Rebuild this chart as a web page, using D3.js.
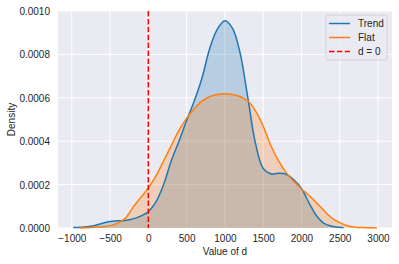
<!DOCTYPE html>
<html lang="en">
<head>
  <meta charset="utf-8">
  <title>kde of d</title>
  <script src="https://d3js.org/d3.v7.min.js"></script>
  <style>
    body { margin: 0; background: #fff; }
    svg { display: block; font-family: "Liberation Sans", Arial, sans-serif; }
    .axis text { font-size: 10px; fill: #262626; }
    .axis path.domain, .axis line { display: none; }
    .grid line { stroke: #fff; stroke-width: 1; }
    .label { font-size: 10px; fill: #262626; text-anchor: middle; }
    .legText { font-size: 10px; fill: #262626; }
  </style>
</head>
<body>
<script>
  // density curves (x = value of d, y = density)
  const trendX = [-980, -800, -700, -600, -500, -400, -300, -200, -100, 0, 100, 200, 300, 400, 500, 600,
    700, 800, 900, 1000, 1100, 1200, 1300, 1400, 1500, 1600, 1700, 1800, 1900, 2000, 2100, 2200, 2300,
    2400, 2500, 2550];
  const trendY = [0.000002, 0.000006, 0.000012, 0.000022, 0.000030, 0.000033, 0.000035, 0.000042, 0.000055,
    0.000075, 0.000120, 0.000200, 0.000310, 0.000400, 0.000495, 0.000585, 0.000690, 0.000825, 0.000915,
    0.000955, 0.000920, 0.000805, 0.000600, 0.000390, 0.000275, 0.000250, 0.000252, 0.000248, 0.000222,
    0.000182, 0.000115, 0.000055, 0.000020, 0.000008, 0.000003, 0.000001];
  const flatX = [-900, -800, -700, -600, -500, -400, -300, -200, -100, 0, 100, 200, 300, 400, 500, 600,
    700, 800, 900, 1000, 1100, 1200, 1300, 1400, 1500, 1600, 1700, 1800, 1900, 2000, 2100, 2200, 2300,
    2400, 2500, 2600, 2700, 2800, 2900, 2985];
  const flatY = [0.0, 0.000001, 0.000003, 0.000006, 0.000011, 0.000022, 0.000045, 0.000095, 0.000140,
    0.000185, 0.000240, 0.000310, 0.000380, 0.000450, 0.000505, 0.000550, 0.000585, 0.000605, 0.000615,
    0.000619, 0.000615, 0.000605, 0.000585, 0.000540, 0.000470, 0.000380, 0.000310, 0.000255, 0.000215,
    0.000180, 0.000150, 0.000115, 0.000078, 0.000045, 0.000025, 0.000010, 0.000004, 0.000002, 0.000001, 0.0];

  const xTicks = [-1000, -500, 0, 500, 1000, 1500, 2000, 2500, 3000];
  const yTicks = [0, 0.0002, 0.0004, 0.0006, 0.0008, 0.0010];
  const series = [
    { name: "Trend", color: "#1f77b4", xs: trendX, ys: trendY },
    { name: "Flat", color: "#ff7f0e", xs: flatX, ys: flatY }
  ];
  const refValue = 0;

  const width = 399, height = 264;
  const margin = { top: 11, right: 7, bottom: 36, left: 58 };
  const innerWidth = width - margin.left - margin.right;
  const innerHeight = height - margin.top - margin.bottom;

  const svg = d3.select("body").append("svg")
    .attr("width", width).attr("height", height);
  const g = svg.append("g").attr("transform", `translate(${margin.left},${margin.top})`);

  const x = d3.scaleLinear().domain([-1180, 3183]).range([0, innerWidth]);
  const y = d3.scaleLinear().domain([0, 0.001]).range([innerHeight, 0]);

  g.append("rect").attr("width", innerWidth).attr("height", innerHeight).attr("fill", "#eaeaf2");

  // grid
  const grid = g.append("g").attr("class", "grid");
  grid.selectAll("line.gx").data(xTicks).join("line").attr("class", "gx")
    .attr("x1", d => x(d)).attr("x2", d => x(d)).attr("y1", 0).attr("y2", innerHeight);
  grid.selectAll("line.gy").data(yTicks).join("line").attr("class", "gy")
    .attr("x1", 0).attr("x2", innerWidth).attr("y1", d => y(d)).attr("y2", d => y(d));

  // axes (tick text placed with plain pixel offsets)
  const fmtX = d => d3.format("d")(d).replace("-", "\u2212");
  const xAxisG = g.append("g").attr("class", "axis")
    .attr("transform", `translate(0,${innerHeight})`)
    .call(d3.axisBottom(x).tickValues(xTicks).tickFormat(fmtX).tickSize(0));
  xAxisG.selectAll("text").attr("dy", null).attr("y", 14);
  const yAxisG = g.append("g").attr("class", "axis")
    .call(d3.axisLeft(y).tickValues(yTicks).tickFormat(d3.format(".4f")).tickSize(0));
  yAxisG.selectAll("text").attr("dy", null).attr("x", -8).attr("y", 3.5);

  // kde curves
  const curve = d3.curveCatmullRom.alpha(0.5);
  const area = d3.area().x(d => x(d[0])).y0(innerHeight).y1(d => y(Math.max(0, d[1]))).curve(curve);
  const line = d3.line().x(d => x(d[0])).y(d => y(d[1])).curve(curve);
  series.forEach(s => {
    s.pts = s.xs.map((v, i) => [v, s.ys[i]]);
    g.append("path").datum(s.pts).attr("d", area)
      .attr("fill", s.color).attr("fill-opacity", 0.25);
  });
  series.forEach(s => {
    g.append("path").datum(s.pts).attr("d", line)
      .attr("fill", "none").attr("stroke", s.color).attr("stroke-width", 1.5);
  });

  // d = 0
  g.append("line")
    .attr("x1", x(refValue)).attr("x2", x(refValue)).attr("y1", 0).attr("y2", innerHeight)
    .attr("stroke", "red").attr("stroke-width", 1.5).attr("stroke-dasharray", "5.5,2.4");

  // axis labels
  svg.append("text").attr("class", "label")
    .attr("x", margin.left + innerWidth / 2).attr("y", 255).text("Value of d");
  svg.append("text").attr("class", "label")
    .attr("transform", `translate(15,${margin.top + innerHeight / 2}) rotate(-90)`).text("Density");

  // legend
  const legend = svg.append("g").attr("transform", "translate(326,15)");
  legend.append("rect").attr("width", 61).attr("height", 45).attr("rx", 2)
    .attr("fill", "#eaeaf2").attr("fill-opacity", 0.8).attr("stroke", "#cccccc").attr("stroke-width", 0.8);
  const legItems = [
    { name: "Trend", color: "#1f77b4", dash: null },
    { name: "Flat", color: "#ff7f0e", dash: null },
    { name: "d = 0", color: "red", dash: "5.5,2.4" }
  ];
  legItems.forEach((d, i) => {
    const yy = 8.5 + i * 14;
    legend.append("line").attr("x1", 3).attr("x2", 24).attr("y1", yy).attr("y2", yy)
      .attr("stroke", d.color).attr("stroke-width", 1.5).attr("stroke-dasharray", d.dash);
    legend.append("text").attr("class", "legText").attr("x", 32).attr("y", yy + 3.5).text(d.name);
  });
</script>
</body>
</html>
